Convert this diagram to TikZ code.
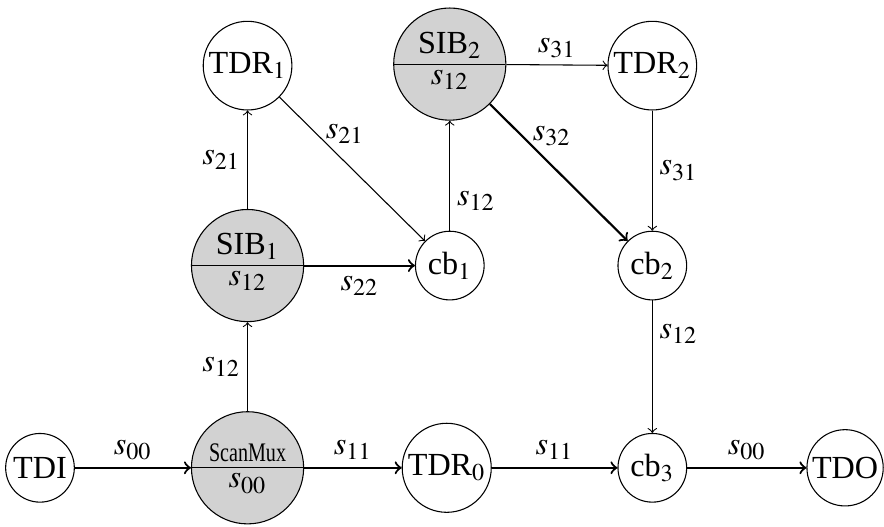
\documentclass[tikz,border=0pt,12pt]{standalone}
\usepackage{mathptmx}
\usepackage{fontspec}
\setmainfont{Liberation Serif}
\usepackage{graphicx}
\usepackage{tikz}
\usetikzlibrary{shapes.multipart}
\usetikzlibrary{arrows}

\begin{document}
\begin{tikzpicture}[
    st/.style={circle,draw,inner sep=1pt,minimum size=0.9cm},
    sib/.style={circle split,draw,fill=gray!35,inner sep=2pt,minimum size=1.47cm},
    bus/.style={->,thick}]
    \useasboundingbox (-0.524,-0.773) rectangle (11.06,6.13);
    \node[st] (tdi) at (0,0) {TDI};
    \node[sib] (mux) at (2.72,0) {\scalebox{0.75}[1]{\footnotesize ScanMux} \nodepart{lower} $s_{00}$};
    \node[st] (tdr0) at (5.33,0) {TDR$_0$};
    \node[st] (cb3) at (8.024,0) {cb$_3$};
    \node[st] (tdo) at (10.55,0) {TDO};
    \node[sib] (sib1) at (2.72,2.65) {SIB$_1$ \nodepart{lower} $s_{12}$};
    \node[st] (cb1) at (5.37,2.65) {cb$_1$};
    \node[st] (cb2) at (8.024,2.65) {cb$_2$};
    \node[st] (tdr1) at (2.72,5.27) {TDR$_1$};
    \node[sib] (sib2) at (5.37,5.29) {SIB$_2$ \nodepart{lower} $s_{12}$};
    \node[st] (tdr2) at (8.024,5.27) {TDR$_2$};
    % scan path along the bottom
    \draw[bus] (tdi) -- node[label={[label distance=-2mm]above:{$s_{00}$}}]{} (mux);
    \draw[bus] (mux) -- node[label={[label distance=-2mm]above:{$s_{11}$}}]{} (tdr0);
    \draw[bus] (tdr0) -- node[label={[label distance=-2mm]above:{$s_{11}$}}]{} (cb3);
    \draw[bus] (cb3) -- node[label={[label distance=-2mm]above:{$s_{00}$}}]{} (tdo);
    % first segment
    \draw[->] (mux) -- node[label={[label distance=-2mm]left:{$s_{12}$}}]{} (sib1);
    \draw[->] (sib1) -- node[label={[label distance=-2mm]left:{$s_{21}$}}]{} (tdr1);
    \draw[bus] (sib1) -- node[label={[label distance=-1.7mm]below:{$s_{22}$}}]{} (cb1);
    \draw[->] (tdr1) -- node[pos=0.45,label={[label distance=-0.5mm]above:{$s_{21}$}}]{} (cb1);
    % second segment
    \draw[->] (cb1) -- node[pos=0.27,label={[label distance=-2mm]right:{$s_{12}$}}]{} (sib2);
    \draw[->] (sib2) -- node[label={[label distance=-2mm]above:{$s_{31}$}}]{} (tdr2);
    \draw[bus] (sib2) -- node[pos=0.45,label={[label distance=-0.5mm]above:{$s_{32}$}}]{} (cb2);
    \draw[->] (tdr2) -- node[label={[label distance=-2mm]right:{$s_{31}$}}]{} (cb2);
    \draw[->] (cb2) -- node[pos=0.25,label={[label distance=-2mm]right:{$s_{12}$}}]{} (cb3);
\end{tikzpicture}
\end{document}
